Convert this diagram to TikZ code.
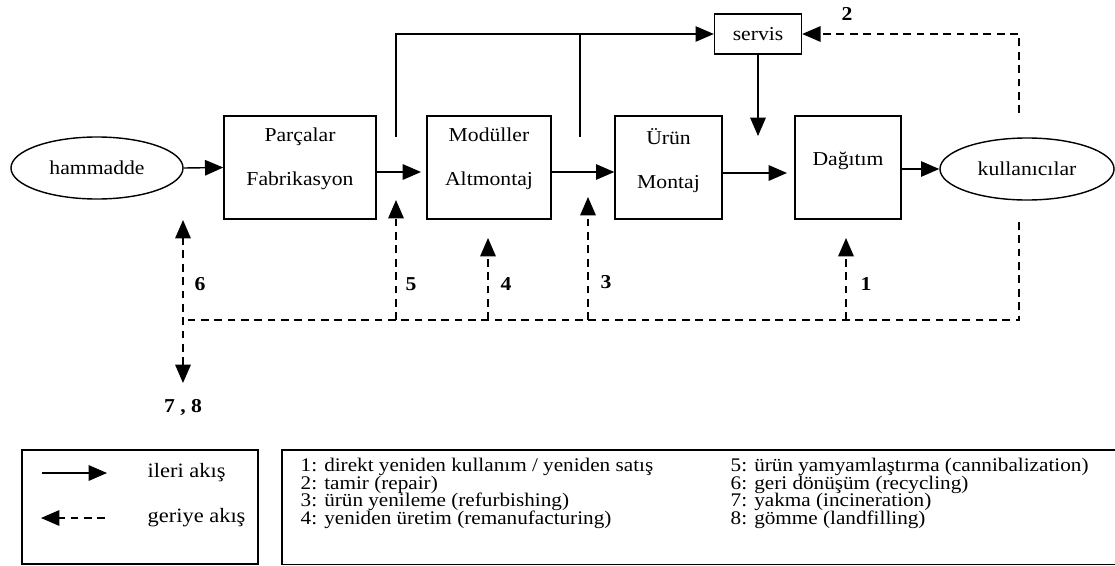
\documentclass[tikz,border=0pt]{standalone}
\usepackage{fontspec}
\setmainfont{Liberation Serif}[FakeStretch=1.1]
\usetikzlibrary{arrows.meta,shapes.geometric}

\begin{document}
\begin{tikzpicture}[x=0.025cm,y=-0.025cm,>={Triangle[length=13pt,width=11pt]},
    line width=1pt,font=\fontsize{14}{17}\selectfont,
    blok/.style={draw,minimum height=2.575cm,inner sep=0pt},
    kure/.style={draw,ellipse,minimum width=4.3cm,minimum height=1.55cm,inner sep=0pt},
    geri/.style={dash pattern=on 5.5pt off 4pt},
    num/.style={font=\fontsize{14}{14}\selectfont\bfseries},
    satir/.style={anchor=base west,inner sep=0pt,font=\fontsize{13.7}{13.7}\selectfont}]
\useasboundingbox (0,0) rectangle (1115,565);

\node[kure] (hammadde) at (97,168) {hammadde};
\node[blok,minimum width=3.8cm] (parca) at (300,167.5) {};
\node[blok,minimum width=3.1cm] (modul) at (489,167.5) {};
\node[blok,minimum width=2.675cm] (urun) at (668.5,167.5) {};
\node[blok,minimum width=2.65cm] (dagitim) at (848,167.5) {};
\node[kure,minimum width=4.35cm] (kullanici) at (1027,169) {kullanıcılar};
\node[draw,minimum width=2.175cm,minimum height=1cm] (servis) at (758,34) {servis};

\node[align=center] (parcayazi) at (300,159) {Parçalar\\[14pt]Fabrikasyon};
\node[align=center] (modulyazi) at (489,159) {Modüller\\[14pt]Altmontaj};
\node[align=center] (urunyazi) at (668.5,160.5) {Ürün\\[14pt]Montaj};
\node (dagitimyazi) at (848,161) {Dağıtım};

\coordinate (p1) at (421,172);
\coordinate (p2) at (551,172);
\coordinate (p3) at (787,173);
\coordinate (u1) at (396,137);
\coordinate (u2) at (580,137);
\coordinate (s1) at (758,136);
\coordinate (k1) at (1019,113);
\coordinate (k2) at (1019,222);
\coordinate (a0) at (183,320);
\coordinate (a6) at (183,220);
\coordinate (a78) at (183,383);

\draw[->](hammadde.east)--(parca.west);
\draw[->](parca.east |- p1)--(p1);
\draw[->](u1)|-(servis.west);
\draw(u2)--(u2 |- servis.west);
\draw[->](modul.east |- p2)--(urun.west |- p2);
\draw[->](urun.east |- p3)--(p3);
\draw[->](servis.south)--(servis.south |- s1);
\draw[->](dagitim.east |- kullanici.west)--(kullanici.west);

\draw[geri,->](k1)|-(servis.east);
\draw[geri](k2)|-(a0);
\draw[geri,<->](a78)--(a6);
\foreach \n/\x/\y in {5/396/200,4/488/238,3/588/197,1/846/238}{
    \coordinate (t\n) at (\x,\y);
    \draw[geri,->](t\n |- a0)--(t\n);
}

\node[num] (n2) at (847,14) {2};
\node[num] (n6) at (200,284) {6};
\node[num] (n5) at (411,284) {5};
\node[num] (n4) at (506,284) {4};
\node[num] (n3) at (606,282) {3};
\node[num] (n1) at (866,284) {1};
\node[num] (n78) at (183,407) {7 , 8};

\node[draw,minimum width=5.9cm,minimum height=2.85cm] (lejant) at (140,507) {};
\coordinate (l1a) at (42,473);
\coordinate (l1b) at (107,473);
\coordinate (l2a) at (105,518);
\coordinate (l2b) at (41,518);
\draw[->](l1a)--(l1b);
\draw[geri,->](l2a)--(l2b);
\node[satir,font=\fontsize{14.5}{14.5}\selectfont] (ileri) at (147,477) {ileri akış};
\node[satir,font=\fontsize{14.5}{14.5}\selectfont] (geriye) at (147,522) {geriye akış};

\draw[line width=1.2pt](282,450) rectangle (1125,564.5);
\foreach \t [count=\i] in {{1: direkt yeniden kullanım / yeniden satış},{2: tamir (repair)},
    {3: ürün yenileme (refurbishing)},{4: yeniden üretim (remanufacturing)}}
    \node[satir] (sol\i) at (300,{471.5+17.5*(\i-1)}) {\t};
\foreach \t [count=\i] in {{5: ürün yamyamlaştırma (cannibalization)},{6: geri dönüşüm (recycling)},
    {7: yakma (incineration)},{8: gömme (landfilling)}}
    \node[satir] (sag\i) at (730,{471.5+17.5*(\i-1)}) {\t};

\end{tikzpicture}
\end{document}
